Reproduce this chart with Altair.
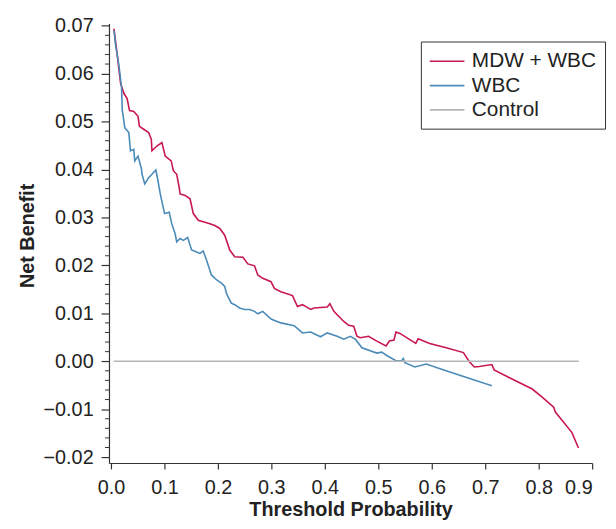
import altair as alt
import pandas as pd

# MDW + WBC curve
red_x = [0.0056, 0.0117, 0.0180, 0.0241, 0.0302, 0.0347, 0.0427, 0.0506, 0.0532, 0.0612, 0.0705,
         0.0755, 0.0766, 0.0859, 0.0952, 0.1015, 0.1126, 0.1169, 0.1230, 0.1275, 0.1293, 0.1386,
         0.1479, 0.1540, 0.1633, 0.1757, 0.1850, 0.1942, 0.2035, 0.2128, 0.2221, 0.2314, 0.2468,
         0.2560, 0.2685, 0.2746, 0.2839, 0.2993, 0.3056, 0.3178, 0.3395, 0.3488, 0.3581, 0.3735,
         0.3798, 0.4045, 0.4095, 0.4169, 0.4354, 0.4447, 0.4540, 0.4601, 0.4662, 0.4818, 0.4972,
         0.5145, 0.5208, 0.5293, 0.5330, 0.5404, 0.5560, 0.5701, 0.5746, 0.5961, 0.6271, 0.6592,
         0.6703, 0.6796, 0.6889, 0.7124, 0.7167, 0.7445, 0.7879, 0.8065, 0.8280, 0.8312, 0.8622,
         0.8744]
red_y = [0.0694, 0.0639, 0.0580, 0.0559, 0.0548, 0.0523, 0.0521, 0.0511, 0.0490, 0.0484, 0.0477,
         0.0463, 0.0439, 0.0449, 0.0456, 0.0428, 0.0418, 0.0397, 0.0390, 0.0363, 0.0349, 0.0346,
         0.0339, 0.0308, 0.0294, 0.0290, 0.0287, 0.0283, 0.0277, 0.0263, 0.0232, 0.0218, 0.0217,
         0.0203, 0.0199, 0.0180, 0.0173, 0.0166, 0.0152, 0.0145, 0.0137, 0.0114, 0.0118, 0.0108,
         0.0111, 0.0113, 0.0120, 0.0104, 0.0083, 0.0075, 0.0073, 0.0052, 0.0049, 0.0052, 0.0042,
         0.0032, 0.0042, 0.0044, 0.0061, 0.0058, 0.0047, 0.0037, 0.0047, 0.0037, 0.0028, 0.0018,
         -0.0001, -0.0012, -0.0011, -0.0007, -0.0018, -0.0034, -0.0058, -0.0075, -0.0096, -0.0106,
         -0.0149, -0.0181]

# WBC curve
blue_x = [0.0056, 0.0087, 0.0148, 0.0199, 0.0210, 0.0260, 0.0334, 0.0365, 0.0427, 0.0445, 0.0506,
          0.0570, 0.0581, 0.0631, 0.0705, 0.0766, 0.0840, 0.0878, 0.0922, 0.1002, 0.1089, 0.1137,
          0.1200, 0.1230, 0.1293, 0.1354, 0.1434, 0.1508, 0.1601, 0.1664, 0.1725, 0.1787, 0.1879,
          0.1972, 0.2065, 0.2128, 0.2158, 0.2250, 0.2314, 0.2406, 0.2499, 0.2592, 0.2685, 0.2746,
          0.2839, 0.2993, 0.3178, 0.3427, 0.3581, 0.3735, 0.3920, 0.4045, 0.4230, 0.4354, 0.4477,
          0.4570, 0.4694, 0.4972, 0.5065, 0.5158, 0.5330, 0.5436, 0.5468, 0.5497, 0.5683, 0.5900,
          0.6210, 0.7124]
blue_y = [0.0690, 0.0659, 0.0618, 0.0570, 0.0525, 0.0487, 0.0477, 0.0439, 0.0442, 0.0418, 0.0428,
          0.0401, 0.0390, 0.0370, 0.0383, 0.0390, 0.0399, 0.0377, 0.0349, 0.0308, 0.0311, 0.0287,
          0.0266, 0.0249, 0.0256, 0.0252, 0.0258, 0.0232, 0.0228, 0.0225, 0.0230, 0.0211, 0.0180,
          0.0170, 0.0163, 0.0156, 0.0142, 0.0121, 0.0118, 0.0111, 0.0108, 0.0108, 0.0104, 0.0099,
          0.0104, 0.0088, 0.0080, 0.0074, 0.0059, 0.0061, 0.0051, 0.0059, 0.0052, 0.0046, 0.0052,
          0.0046, 0.0028, 0.0017, 0.0019, 0.0012, 0.0001, 0.0001, 0.0006, -0.0003, -0.0012, -0.0006,
          -0.0018, -0.0051]

# Control line
ctrl_x = [0.005, 0.875]
ctrl_y = [0.0, 0.0]

series_names = ["MDW + WBC", "WBC", "Control"]
series_colors = ["#c8174f", "#4a8bb8", "#b3b7bb"]

x_ticks = [0.0, 0.1, 0.2, 0.3, 0.4, 0.5, 0.6, 0.7, 0.8, 0.9]
y_ticks = [-0.02, -0.01, 0.0, 0.01, 0.02, 0.03, 0.04, 0.05, 0.06, 0.07]
y_minor = [round(-0.02 + 0.002 * i, 3) for i in range(46) if i % 5 != 0]

df = pd.concat([
    pd.DataFrame({"x": red_x, "y": red_y, "series": series_names[0]}),
    pd.DataFrame({"x": blue_x, "y": blue_y, "series": series_names[1]}),
    pd.DataFrame({"x": ctrl_x, "y": ctrl_y, "series": series_names[2]}),
])
minor_df = pd.DataFrame({"y": y_minor})

FONT = "Liberation Sans"

xscale = alt.Scale(domain=[-0.0037, 0.9], nice=False, zero=False)
yscale = alt.Scale(domain=[-0.02124, 0.07048], nice=False, zero=False)

y_enc = alt.Y("y:Q", scale=yscale,
              axis=alt.Axis(values=y_ticks, format=".2f", title="Net Benefit",
                            titlePadding=6, tickSize=8, labelPadding=8, titleY=214))

lines = alt.Chart(df).mark_line(strokeWidth=1.6).encode(
    x=alt.X("x:Q", scale=xscale,
            axis=alt.Axis(values=x_ticks, format=".1f", title="Threshold Probability",
                          titlePadding=2, tickSize=6, labelPadding=9)),
    y=y_enc,
    color=alt.Color("series:N",
                    scale=alt.Scale(domain=series_names, range=series_colors),
                    legend=alt.Legend(orient="none", legendX=315, legendY=18.3, title=None,
                                      symbolType="M-1.75,0H1.75", symbolSize=400,
                                      symbolOffset=6.5,
                                      symbolStrokeWidth=1.6, labelFontSize=21,
                                      labelFont=FONT, labelColor="#222", labelOffset=14,
                                      rowPadding=3.5, padding=9, strokeColor="#333")),
    detail="series:N",
)

minor = alt.Chart(minor_df).mark_rule(color="#333", strokeWidth=1).encode(
    y=y_enc,
    x=alt.value(-4),
    x2=alt.value(0),
)

chart = alt.layer(minor, lines).properties(
    width=488, height=444,
    autosize=alt.AutoSizeParams(type="none"),
    padding={"left": 102, "top": 13, "right": 16, "bottom": 56},
).configure_view(stroke=None).configure_axis(
    grid=False,
    domainColor="#333", domainWidth=1.2,
    tickColor="#333", tickWidth=1.2,
    labelFont=FONT, labelFontSize=20, labelColor="#222",
    titleFont=FONT, titleFontSize=20, titleFontWeight="bold", titleColor="#222",
)

chart.save("out.html", embed_options={"renderer": "svg", "actions": False})
